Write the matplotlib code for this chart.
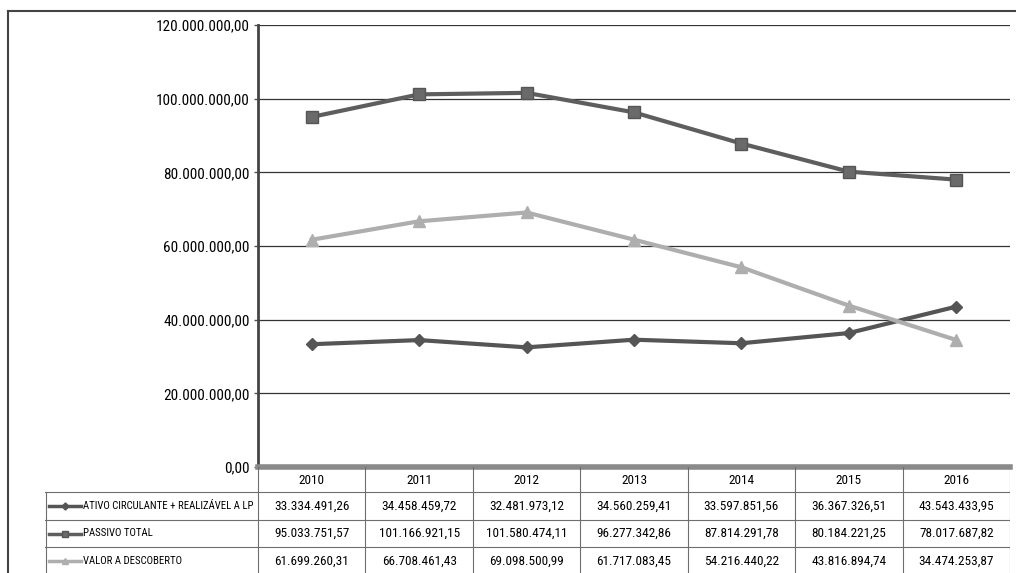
import matplotlib
matplotlib.use("Agg")
import matplotlib.pyplot as plt
from matplotlib.lines import Line2D
from matplotlib.ticker import FuncFormatter
from matplotlib import font_manager

names = {f.name for f in font_manager.fontManager.ttflist}
narrow = None
for cand in ['Liberation Sans Narrow', 'Roboto Condensed', 'Open Sans Condensed', 'DejaVu Sans Condensed']:
    if cand in names:
        narrow = cand
        break
if narrow:
    plt.rcParams['font.family'] = [narrow, 'DejaVu Sans']
else:
    plt.rcParams['font.family'] = ['DejaVu Sans']

years = ['2010', '2011', '2012', '2013', '2014', '2015', '2016']
ativo = [33334491.26, 34458459.72, 32481973.12, 34560259.41, 33597851.56, 36367326.51, 43543433.95]
passivo = [95033751.57, 101166921.15, 101580474.11, 96277342.86, 87814291.78, 80184221.25, 78017687.82]
valor = [61699260.31, 66708461.43, 69098500.99, 61717083.45, 54216440.22, 43816894.74, 34474253.87]
series_names = ['ATIVO CIRCULANTE + REALIZÁVEL A LP', 'PASSIVO TOTAL', 'VALOR A DESCOBERTO']

W, H = 1016, 573
fig = plt.figure(figsize=(W / 100, H / 100), dpi=100)


def fmt_br(v, decimals=2):
    s = f"{v:,.{decimals}f}"
    return s.replace(',', 'X').replace('.', ',').replace('X', '.')


# main axes
L, R, T, B = 258, 1010, 25, 467
ax = fig.add_axes([L / W, (H - B) / H, (R - L) / W, (B - T) / H])
x = list(range(len(years)))
styles = [
    dict(color='#555555', marker='D', ms=6, mfc='#555555', mec='#555555'),
    dict(color='#5e5e5e', marker='s', ms=8, mfc='#6a6a6a', mec='#555555'),
    dict(color='#aeaeae', marker='^', ms=8, mfc='#aeaeae', mec='#aeaeae'),
]
for vals, st in zip([ativo, passivo, valor], styles):
    ax.plot(x, vals, lw=3, zorder=3, **st)

ax.set_xlim(-0.5, len(years) - 0.5)
ax.set_ylim(0, 120e6)
ax.set_yticks([0, 20e6, 40e6, 60e6, 80e6, 100e6, 120e6])
ax.yaxis.set_major_formatter(FuncFormatter(lambda v, p: fmt_br(v)))
ax.tick_params(axis='y', labelsize=11, length=3, width=1, color='#555555', pad=3)
ax.set_xticks([])
ax.grid(axis='y', color='#333333', lw=0.9)
ax.set_axisbelow(True)
for s in ['top', 'right']:
    ax.spines[s].set_visible(False)
ax.spines['left'].set_color('#444444')
ax.spines['left'].set_linewidth(2)
ax.spines['bottom'].set_color('#8a8a8a')
ax.spines['bottom'].set_linewidth(4)

# table axes (x in data columns, y in pixels)
TL = 45
colw = (R - L) / len(years)
xl_left = -0.5 - (L - TL) / colw
tab = fig.add_axes([TL / W, 0, (R - TL) / W, (H - B) / H])
tab.set_xlim(xl_left, len(years) - 0.5)
tab.set_ylim(H, B)
tab.axis('off')

row_edges = [B, 492, 520, 547, 575]
lc = '#6e6e6e'
lw = 0.8
for y in row_edges[1:4]:
    tab.plot([xl_left, len(years) - 0.5], [y, y], color=lc, lw=lw)
for i in range(len(years) + 1):
    tab.plot([i - 0.5, i - 0.5], [B, H], color=lc, lw=lw)
tab.plot([xl_left + 0.005, xl_left + 0.005], [row_edges[1], H], color=lc, lw=lw)

fs = 9.5
cell_texts = []
for i, yr in enumerate(years):
    tab.text(i, (row_edges[0] + row_edges[1]) / 2 + 1, yr, ha='center', va='center', fontsize=fs)

label_texts = []
for r, (name, vals, st) in enumerate(zip(series_names, [ativo, passivo, valor], styles)):
    yc = (row_edges[r + 1] + row_edges[r + 2]) / 2
    for i, v in enumerate(vals):
        cell_texts.append(tab.text(i, yc, fmt_br(v), ha='center', va='center', fontsize=fs))
    kx0 = xl_left + 4 / colw
    kx1 = xl_left + 36 / colw
    tab.plot([kx0, kx1], [yc, yc], color=st['color'], lw=2.5)
    tab.plot([(kx0 + kx1) / 2], [yc], marker=st['marker'], ms=st['ms'] * 0.6,
             color=st['mfc'], mec=st['mec'])
    label_texts.append(tab.text(xl_left + 38 / colw, yc, name, ha='left', va='center', fontsize=fs))

# shrink texts that do not fit their cells (same size for all row labels)
fig.canvas.draw()
rend = fig.canvas.get_renderer()
max_label = (L - TL) - 38 - 4
scale = min(1.0, min(max_label / t.get_window_extent(rend).width for t in label_texts))
for t in label_texts:
    t.set_fontsize(fs * scale)
for t in cell_texts:
    w = t.get_window_extent(rend).width
    if w > colw - 6:
        t.set_fontsize(fs * (colw - 6) / w)

# outer frame
fig.add_artist(Line2D([8 / W, 1.0], [1 - 11 / H, 1 - 11 / H], color='#444444', lw=1.5))
fig.add_artist(Line2D([8 / W, 8 / W], [0, 1 - 11 / H], color='#444444', lw=1.5))

fig.savefig('out.png', dpi=100, facecolor='white')
